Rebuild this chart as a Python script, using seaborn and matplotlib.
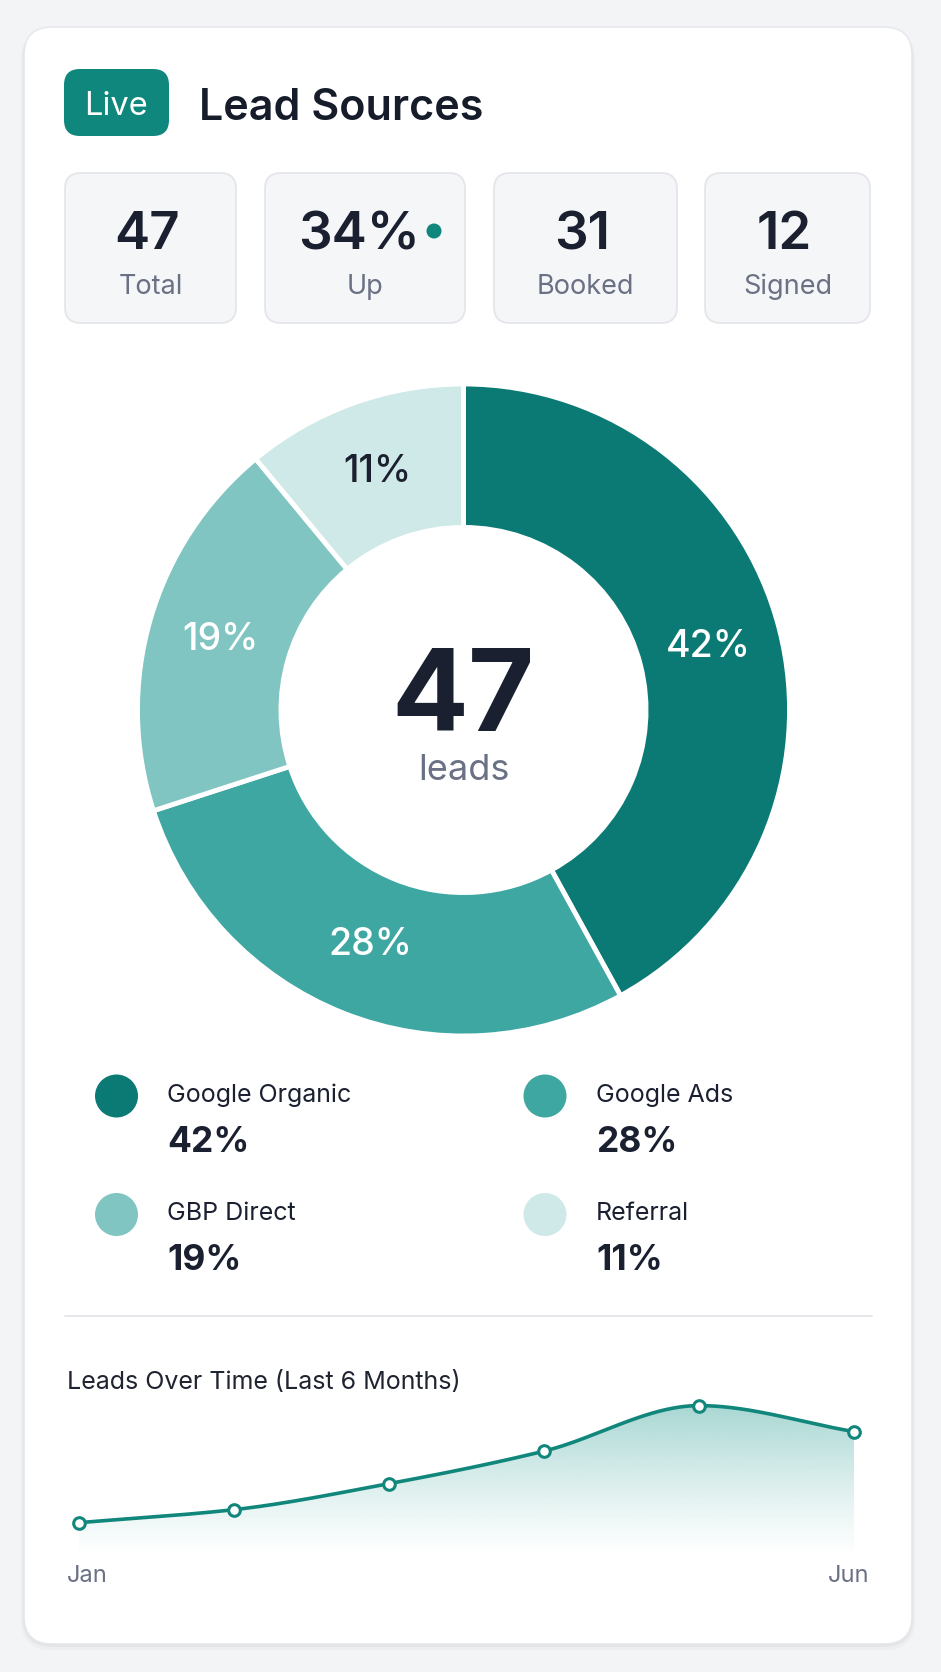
import numpy as np
import pandas as pd
import matplotlib
matplotlib.use("Agg")
import matplotlib.pyplot as plt
import seaborn as sns
from matplotlib.patches import FancyBboxPatch, Polygon, Circle

# ---------------- data ----------------
stat_values = ["47", "34%", "31", "12"]
stat_labels = ["Total", "Up", "Booked", "Signed"]
sources = ["Google Organic", "Google Ads", "GBP Direct", "Referral"]
shares = [42, 28, 19, 11]
source_colors = ["#0b7a74", "#3fa7a2", "#80c5c1", "#cfe9e8"]
total_leads = 47
months = ["Jan", "Feb", "Mar", "Apr", "May", "Jun"]
monthly_leads = [6, 7, 9, 11.5, 15, 13]

# ---------------- style ----------------
sns.set_theme(style="white")
plt.rcParams["font.family"] = ["Inter", "DejaVu Sans"]

TEAL = "#10877c"
DARK = "#1a2030"
GRAY = "#6b7185"

W, H = 941, 1672
fig = plt.figure(figsize=(W / 100, H / 100), dpi=100)
fig.patch.set_facecolor("#f3f4f6")


def frac(x0, y0, x1, y1):
    return [x0 / W, 1 - y1 / H, (x1 - x0) / W, (y1 - y0) / H]


bg = fig.add_axes([0, 0, 1, 1])
bg.set_xlim(0, W)
bg.set_ylim(H, 0)
bg.axis("off")

# card with soft shadow
for off, a in [(6, 0.025), (3, 0.035), (1, 0.05)]:
    bg.add_patch(FancyBboxPatch((24 - off / 2, 27 + off / 2), 888 + off, 1617 + off / 2,
                                boxstyle="round,pad=0,rounding_size=30",
                                facecolor="black", edgecolor="none", alpha=a, zorder=0))
bg.add_patch(FancyBboxPatch((24, 27), 888, 1617, boxstyle="round,pad=0,rounding_size=28",
                            facecolor="white", edgecolor="#e7e8ec", linewidth=1.2, zorder=1))

# header
bg.add_patch(FancyBboxPatch((64, 69), 105, 67, boxstyle="round,pad=0,rounding_size=16",
                            facecolor=TEAL, edgecolor="none", zorder=2))
bg.text(116.5, 115, "Live", ha="center", va="baseline", fontsize=23.5, color="white", zorder=3)
bg.text(199, 120, "Lead Sources", ha="left", va="baseline", fontsize=31, fontweight=600,
        color="#171c2b", zorder=3)

# stat boxes
box_x = [(65, 236), (265, 465), (494, 677), (705, 870)]
for (x0, x1), val, lab in zip(box_x, stat_values, stat_labels):
    bg.add_patch(FancyBboxPatch((x0, 173), x1 - x0, 150, boxstyle="round,pad=0,rounding_size=16",
                                facecolor="#f5f6f8", edgecolor="#e4e6ea", linewidth=1.3, zorder=2))
    cx = (x0 + x1) / 2
    if val.endswith("%"):
        bg.text(cx - 6, 249, val, ha="center", va="baseline", fontsize=38, fontweight=600,
                color=DARK, zorder=3)
        bg.add_patch(Circle((434, 231), 7.5, facecolor=TEAL, edgecolor="none", zorder=3))
    else:
        bg.text(cx - 3, 249, val, ha="center", va="baseline", fontsize=38, fontweight=600,
                color=DARK, zorder=3)
    bg.text(cx, 294, lab, ha="center", va="baseline", fontsize=19.5, color=GRAY, zorder=3)

# ---------------- donut ----------------
CX, CY, R = 463.5, 710, 326
dax = fig.add_axes(frac(CX - R, CY - R, CX + R, CY + R))
wedges, _ = dax.pie(shares, colors=source_colors, startangle=90, counterclock=False, radius=1,
                    wedgeprops=dict(width=0.44, edgecolor="white", linewidth=3.5))
dax.set_xlim(-1, 1)
dax.set_ylim(-1, 1)
dax.axis("off")
for w, s, c in zip(wedges, shares, source_colors):
    th = np.deg2rad((w.theta1 + w.theta2) / 2)
    r = 0.775
    tc = DARK if c == source_colors[-1] else "white"
    dax.text(r * np.cos(th), r * np.sin(th), f"{s}%", ha="center", va="center",
             fontsize=27, fontweight=500, color=tc)

bg.text(CX - 1, 731, str(total_leads), ha="center", va="baseline", fontsize=82,
        fontweight="bold", color=DARK, zorder=3)
bg.text(CX, 780, "leads", ha="center", va="baseline", fontsize=26, color=GRAY, zorder=3)

# ---------------- legend ----------------
leg_pos = [(116.5, 1096), (545, 1096), (116.5, 1214.5), (545, 1214.5)]
leg_df = pd.DataFrame({"x": [p[0] for p in leg_pos], "y": [p[1] for p in leg_pos],
                       "source": sources})
sns.scatterplot(data=leg_df, x="x", y="y", hue="source", palette=source_colors,
                s=(43 * 0.72) ** 2, linewidth=0, legend=False, ax=bg, zorder=3)
bg.set_xlim(0, W)
bg.set_ylim(H, 0)
bg.set_xlabel("")
bg.set_ylabel("")
for (px, py), name, s in zip(leg_pos, sources, shares):
    bg.text(px + 51, py + 6, name, ha="left", va="baseline", fontsize=18, color=DARK, zorder=3)
    bg.text(px + 51, py + 56, f"{s}%", ha="left", va="baseline", fontsize=25.5,
            fontweight="bold", color=DARK, zorder=3)

# divider
bg.plot([65, 872], [1316, 1316], color="#e3e5e9", lw=1.3, zorder=2)

# ---------------- line chart ----------------
bg.text(67, 1389, "Leads Over Time (Last 6 Months)", ha="left", va="baseline", fontsize=18,
        color="#1f2430", zorder=3)


def monotone(x, y, n=60):
    x = np.asarray(x, float)
    y = np.asarray(y, float)
    h = np.diff(x)
    d = np.diff(y) / h
    m = np.zeros_like(y)
    m[0], m[-1] = d[0], d[-1]
    for i in range(1, len(y) - 1):
        if d[i - 1] * d[i] <= 0:
            m[i] = 0
        else:
            w1 = 2 * h[i] + h[i - 1]
            w2 = h[i] + 2 * h[i - 1]
            m[i] = (w1 + w2) / (w1 / d[i - 1] + w2 / d[i])
    xs, ys = [], []
    for i in range(len(x) - 1):
        t = np.linspace(0, 1, n, endpoint=(i == len(x) - 2))
        h00 = 2 * t**3 - 3 * t**2 + 1
        h10 = t**3 - 2 * t**2 + t
        h01 = -2 * t**3 + 3 * t**2
        h11 = t**3 - t**2
        xs.append(x[i] + t * h[i])
        ys.append(h00 * y[i] + h10 * h[i] * m[i] + h01 * y[i + 1] + h11 * h[i] * m[i + 1])
    return np.concatenate(xs), np.concatenate(ys)


xi = np.arange(len(months))
sx, sy = monotone(xi, monthly_leads)
YLO, YHI = 3.36, 16.2
lax = fig.add_axes(frac(79, 1390, 854, 1557))
lax.patch.set_alpha(0)

# gradient fill under the curve
grad = np.linspace(0, 1, 256).reshape(-1, 1)
img = np.zeros((256, 1, 4))
img[..., :3] = matplotlib.colors.to_rgb("#2a9d94")
img[..., 3] = 0.42 * grad[..., 0:1] ** 1.2
im = lax.imshow(img, extent=[0, len(months) - 1, YLO, max(monthly_leads) + 0.3],
                origin="lower", aspect="auto", zorder=1)
verts = np.vstack([np.column_stack([sx, sy]), [[sx[-1], YLO], [sx[0], YLO]]])
poly = Polygon(verts, closed=True, facecolor="none", edgecolor="none", transform=lax.transData)
lax.add_patch(poly)
im.set_clip_path(poly)

sns.lineplot(x=sx, y=sy, color="#11867b", linewidth=2.6, ax=lax, zorder=3, sort=False)
sns.scatterplot(x=xi, y=monthly_leads, s=70, color="white", edgecolor="#11867b",
                linewidth=2.2, ax=lax, zorder=4, clip_on=False)
lax.set_xlim(0, len(months) - 1)
lax.set_ylim(YLO, YHI)
lax.axis("off")

bg.text(67, 1582, months[0], ha="left", va="baseline", fontsize=17, color=GRAY, zorder=3)
bg.text(869, 1582, months[-1], ha="right", va="baseline", fontsize=17, color=GRAY, zorder=3)

fig.savefig("out.png", dpi=100, facecolor=fig.get_facecolor())
